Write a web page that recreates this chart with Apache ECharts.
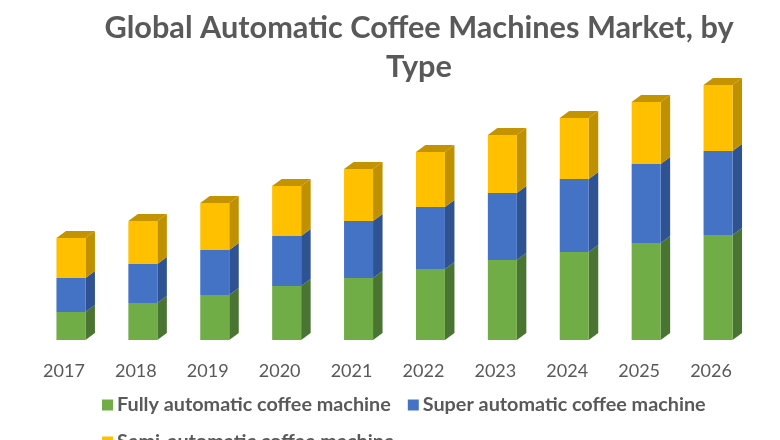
<!DOCTYPE html>
<html><head><meta charset="utf-8">
<style>html,body{margin:0;padding:0;background:#fff;overflow:hidden}#c{width:780px;height:440px}</style>
<script src="https://cdn.jsdelivr.net/npm/echarts@6/dist/echarts.min.js"></script>
</head><body><div id="c"></div>
<script>
const categories = ['2017','2018','2019','2020','2021','2022','2023','2024','2025','2026'];
const fully = [28,37,45,54,62,71,80,88,97,105];
const superAuto = [34,39,45,50,57,62,67,73,79,84];
const semi = [40,43,47,50,52,55,58,61,62,66];
const names = ['Fully automatic coffee machine','Super automatic coffee machine','Semi-automatic coffee machine'];
const lists = [fully, superAuto, semi];
const fronts = ['#70AD47','#4472C4','#FFC000'];
const sides = ['#4A7432','#2F5292','#BF9000'];
const tops = ['#5F9439','#3A62A8','#C49400'];
const W = 29, DX = 9.5, DY = 7, SHIFT = 7;
const chart = echarts.init(document.getElementById('c'), null, {renderer:'canvas'});
function mk(idx){
  const data = categories.map((c,i)=>{
    let base = 0;
    for(let k=0;k<idx;k++) base += lists[k][i];
    return [i, base, base + lists[idx][i]];
  });
  return {
    type:'custom', name:names[idx], data, clip:false,
    itemStyle:{color:fronts[idx]},
    encode:{x:0,y:2},
    renderItem(params, api){
      const a = api.coord([api.value(0), api.value(1)]);
      const b = api.coord([api.value(0), api.value(2)]);
      const l = a[0]+SHIFT-W/2, r = l+W, y0=a[1], y1=b[1];
      const kids = [
        {type:'polygon',shape:{points:[[r,y0],[r+DX,y0-DY],[r+DX,y1-DY],[r,y1]]},style:{fill:sides[idx]}},
        {type:'rect',shape:{x:l,y:y1,width:W,height:y0-y1},style:{fill:fronts[idx]}}
      ];
      if(idx===2) kids.push({type:'polygon',shape:{points:[[l,y1],[l+DX,y1-DY],[r+DX,y1-DY],[r,y1]]},style:{fill:tops[idx]}});
      return {type:'group',children:kids};
    }
  };
}
chart.setOption({
  animation:false,
  backgroundColor:'#fff',
  title:[
    {text:'Global Automatic Coffee Machines Market, by',left:414,top:8,textAlign:'center',textStyle:{fontFamily:'Lato',fontSize:30.7,fontWeight:'bold',color:'#595959'}},
    {text:'Type',left:414,top:47,textAlign:'center',textStyle:{fontFamily:'Lato',fontSize:30.7,fontWeight:'bold',color:'#595959'}}
  ],
  grid:{left:28,right:33,top:0,height:340},
  xAxis:{type:'category',data:categories,axisLine:{show:false},axisTick:{show:false},
    axisLabel:{margin:22,fontFamily:'Lato',fontSize:18,color:'#595959',interval:0}},
  yAxis:{type:'value',min:0,max:340,show:false},
  legend:{data:names,left:97,top:390,width:680,itemWidth:11,itemHeight:11,itemGap:17,itemSpacing:0,
    icon:'rect',textStyle:{fontFamily:'Lato',fontSize:19.8,fontWeight:'bold',color:'#595959',padding:[0,0,0,-1]}},
  series:[mk(0),mk(1),mk(2)]
});
</script></body></html>
